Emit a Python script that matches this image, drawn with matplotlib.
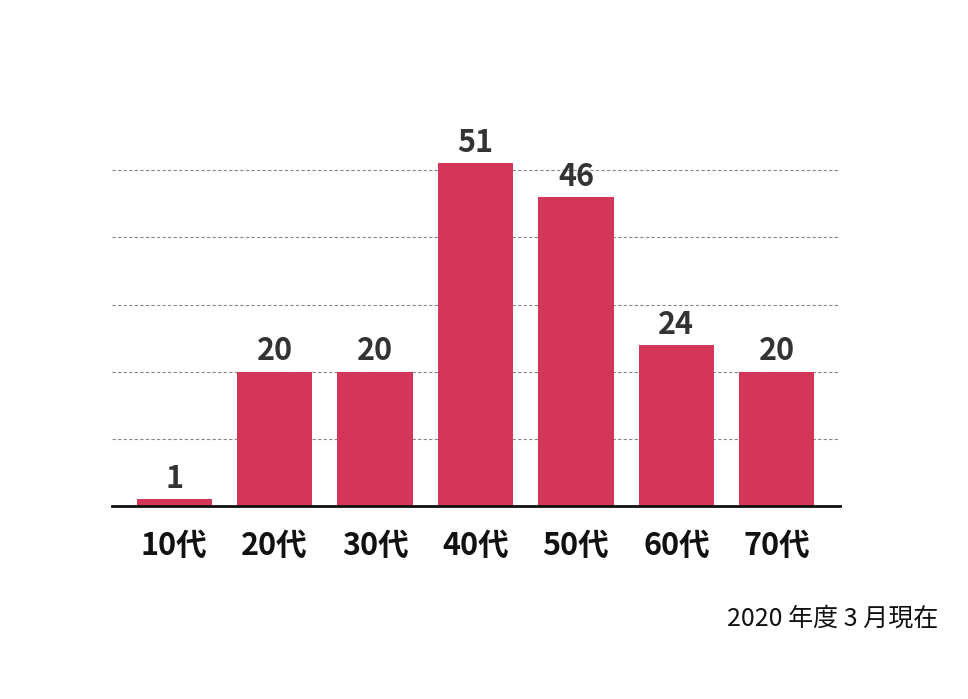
import matplotlib
matplotlib.use("Agg")
import matplotlib.pyplot as plt

plt.rcParams['font.family'] = ['Noto Sans CJK JP', 'DejaVu Sans']

categories = ["10代", "20代", "30代", "40代", "50代", "60代", "70代"]
values = [1, 20, 20, 51, 46, 24, 20]
grid_ticks = [10, 20, 30, 40, 50]
note = "2020 年度 3 月現在"

bar_color = "#D4365A"

fig = plt.figure(figsize=(9.68, 6.99), dpi=100)
ax = fig.add_axes([112/968, 1-506/699, (840-112)/968, (506-103)/699])

x = list(range(len(categories)))
ax.bar(x, values, width=0.75, color=bar_color, zorder=2)
ax.set_xlim(-0.62, 6.63)
ax.set_ylim(0, 60)
ax.set_yticks(grid_ticks)
ax.yaxis.grid(True, linestyle=(0, (3, 2)), color="#888888", linewidth=0.8, zorder=0)
ax.set_axisbelow(True)
ax.tick_params(axis='y', left=False, labelleft=False)
ax.set_xticks(x)
ax.set_xticklabels(categories, fontsize=22, fontweight='bold', color='#111111')
ax.tick_params(axis='x', length=0, pad=17)
for s in ['top', 'right', 'left']:
    ax.spines[s].set_visible(False)
ax.spines['bottom'].set_linewidth(2)
ax.spines['bottom'].set_color('#111111')
ax.spines['bottom'].set_zorder(3)

for xi, v in zip(x, values):
    ax.annotate(str(v), (xi, v), xytext=(0, 3), textcoords='offset points',
                ha='center', va='bottom', fontsize=22, fontweight='bold',
                color='#333333', zorder=4)

fig.text(938/968, 1-626/699, note, ha='right', va='baseline', fontsize=18, color='#111111')

fig.savefig("out.png", dpi=100)
